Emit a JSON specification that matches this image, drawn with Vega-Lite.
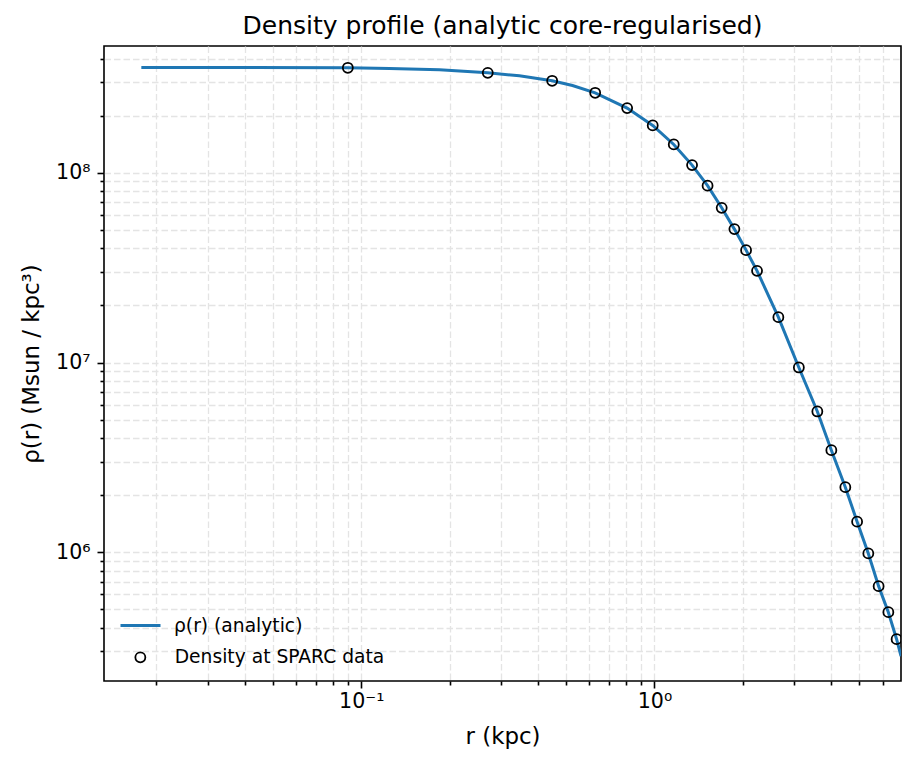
{
  "$schema": "https://vega.github.io/schema/vega-lite/v6.json",
  "width": 797,
  "height": 635,
  "autosize": {"type": "none"},
  "padding": {"left": 104, "top": 46, "right": 16, "bottom": 86},
  "background": "white",
  "title": {
    "text": "Density profile (analytic core-regularised)",
    "font": "DejaVu Sans",
    "fontSize": 25,
    "fontWeight": "normal",
    "color": "black",
    "anchor": "middle",
    "baseline": "alphabetic",
    "offset": -13
  },
  "config": {
    "view": {"stroke": "black", "strokeWidth": 1.6},
    "font": "DejaVu Sans",
    "axis": {
      "domain": false,
      "grid": true,
      "gridColor": "#e4e4e4",
      "gridDash": [6.5, 3],
      "gridWidth": 1.3,
      "tickColor": "black",
      "tickWidth": 1.6,
      "labelColor": "black",
      "labelFont": "DejaVu Sans",
      "labelFontSize": 20.6,
      "labelOverlap": false,
      "labelFlush": false,
      "titleColor": "black",
      "titleFont": "DejaVu Sans",
      "titleFontSize": 22.9,
      "titleFontWeight": "normal"
    }
  },
  "datasets": {
    "curve": [
      {"r": 0.01778, "rho": 359400000},
      {"r": 0.04, "rho": 359000000},
      {"r": 0.09, "rho": 357700000},
      {"r": 0.1249, "rho": 355000000},
      {"r": 0.1849, "rho": 349000000},
      {"r": 0.2701, "rho": 336600000},
      {"r": 0.3462, "rho": 324600000},
      {"r": 0.4479, "rho": 305500000},
      {"r": 0.5254, "rho": 288300000},
      {"r": 0.6279, "rho": 264100000},
      {"r": 0.8071, "rho": 219300000},
      {"r": 0.9867, "rho": 177800000},
      {"r": 1.164, "rho": 141100000},
      {"r": 1.344, "rho": 109800000},
      {"r": 1.518, "rho": 85600000},
      {"r": 1.696, "rho": 65400000},
      {"r": 1.874, "rho": 50500000},
      {"r": 2.054, "rho": 39130000},
      {"r": 2.239, "rho": 30440000},
      {"r": 2.647, "rho": 17350000},
      {"r": 3.109, "rho": 9420000},
      {"r": 3.595, "rho": 5524000},
      {"r": 4.013, "rho": 3453000},
      {"r": 4.479, "rho": 2204000},
      {"r": 4.913, "rho": 1450000},
      {"r": 5.365, "rho": 986000},
      {"r": 5.817, "rho": 663000},
      {"r": 6.279, "rho": 483300},
      {"r": 6.7, "rho": 348300},
      {"r": 6.935, "rho": 283400}
    ],
    "sparc": [
      {"r": 0.09, "rho": 357700000},
      {"r": 0.2701, "rho": 336600000},
      {"r": 0.4479, "rho": 305500000},
      {"r": 0.6279, "rho": 264100000},
      {"r": 0.8071, "rho": 219300000},
      {"r": 0.9867, "rho": 177800000},
      {"r": 1.164, "rho": 141100000},
      {"r": 1.344, "rho": 109800000},
      {"r": 1.518, "rho": 85600000},
      {"r": 1.696, "rho": 65400000},
      {"r": 1.874, "rho": 50500000},
      {"r": 2.054, "rho": 39130000},
      {"r": 2.239, "rho": 30440000},
      {"r": 2.647, "rho": 17350000},
      {"r": 3.109, "rho": 9420000},
      {"r": 3.595, "rho": 5524000},
      {"r": 4.013, "rho": 3453000},
      {"r": 4.479, "rho": 2204000},
      {"r": 4.913, "rho": 1450000},
      {"r": 5.365, "rho": 986000},
      {"r": 5.817, "rho": 663000},
      {"r": 6.279, "rho": 483300},
      {"r": 6.7, "rho": 348300}
    ]
  },
  "encoding": {
    "x": {
      "field": "r",
      "type": "quantitative",
      "scale": {"type": "log", "domain": [0.01326, 6.935], "nice": false},
      "axis": {
        "title": "r (kpc)",
        "values": [0.02, 0.03, 0.04, 0.05, 0.06, 0.07, 0.08, 0.09, 0.1, 0.2, 0.3, 0.4, 0.5, 0.6, 0.7, 0.8, 0.9, 1, 2, 3, 4, 5, 6],
        "labelExpr": "datum.value == 0.1 ? '10⁻¹' : datum.value == 1 ? '10⁰' : ''",
        "tickSize": {"condition": {"test": "datum.value == 0.1 || datum.value == 1", "value": 7}, "value": 4},
        "labelPadding": 3,
        "titleX": 398.5,
        "titleY": 62,
        "titleBaseline": "alphabetic",
        "titleAlign": "center"
      }
    },
    "y": {
      "field": "rho",
      "type": "quantitative",
      "scale": {"type": "log", "domain": [209700, 466000000], "nice": false},
      "axis": {
        "title": "ρ(r) (Msun / kpc³)",
        "values": [300000, 400000, 500000, 600000, 700000, 800000, 900000, 1000000, 2000000, 3000000, 4000000, 5000000, 6000000, 7000000, 8000000, 9000000, 10000000, 20000000, 30000000, 40000000, 50000000, 60000000, 70000000, 80000000, 90000000, 100000000, 200000000, 300000000, 400000000],
        "labelExpr": "datum.value == 1000000 ? '10⁶' : datum.value == 10000000 ? '10⁷' : datum.value == 100000000 ? '10⁸' : ''",
        "tickSize": {"condition": {"test": "datum.value == 1000000 || datum.value == 10000000 || datum.value == 100000000", "value": 7}, "value": 4},
        "labelPadding": 7,
        "titleX": -65.5,
        "titleY": 317.5,
        "titleAngle": -90,
        "titleBaseline": "alphabetic",
        "titleAlign": "center"
      }
    }
  },
  "layer": [
    {
      "data": {"name": "curve"},
      "mark": {"type": "line", "strokeWidth": 3, "clip": true},
      "encoding": {
        "color": {
          "datum": "ρ(r) (analytic)",
          "type": "nominal",
          "scale": {"range": ["#1f77b4"]},
          "legend": {
            "orient": "none",
            "legendX": 15,
            "legendY": 558,
            "title": null,
            "padding": 0,
            "symbolType": "stroke",
            "symbolSize": 1600,
            "symbolStrokeWidth": 3,
            "labelFont": "DejaVu Sans",
            "labelFontSize": 18.7,
            "labelColor": "black",
            "labelOffset": 12,
            "labelLimit": 400
          }
        }
      }
    },
    {
      "data": {"name": "sparc"},
      "mark": {"type": "point", "shape": "circle", "filled": false, "color": "black", "size": 100, "strokeWidth": 1.8, "opacity": 1, "clip": true},
      "encoding": {
        "shape": {
          "datum": "Density at SPARC data",
          "type": "nominal",
          "scale": {"range": ["circle"]},
          "legend": {
            "orient": "none",
            "legendX": 27,
            "legendY": 602,
            "title": null,
            "padding": 0,
            "symbolSize": 100,
            "symbolStrokeColor": "black",
            "symbolFillColor": "transparent",
            "symbolStrokeWidth": 1.8,
            "labelFont": "DejaVu Sans",
            "labelFontSize": 18.7,
            "labelColor": "black",
            "labelOffset": 25,
            "labelLimit": 400
          }
        }
      }
    }
  ]
}
